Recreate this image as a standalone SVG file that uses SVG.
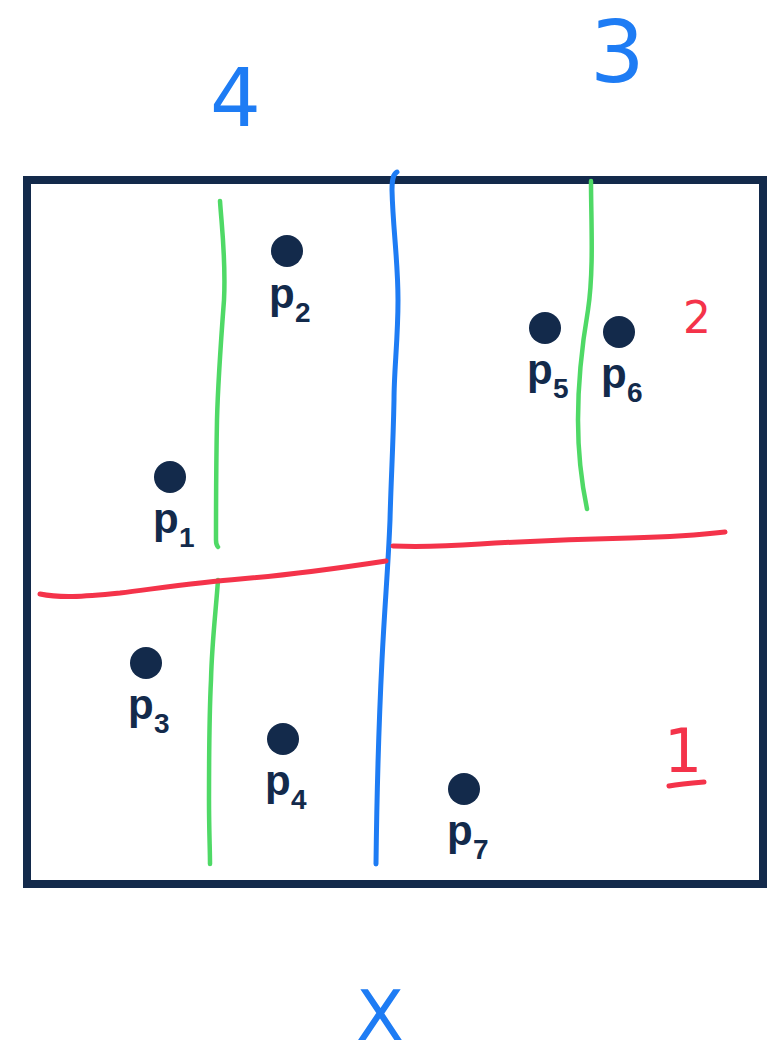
<svg xmlns="http://www.w3.org/2000/svg" width="779" height="1058" viewBox="0 0 779 1058">
<style>
.ink{fill:none;stroke-linecap:round;stroke-linejoin:round}
.blue{stroke:#1e7cf4;stroke-width:5}
.green{stroke:#4fd966;stroke-width:4.5}
.red{stroke:#f4334a;stroke-width:5}
.dot{fill:#132a4b}
.lbl{font-family:"Liberation Sans",Arial,sans-serif;font-weight:bold;font-size:42px;fill:#132a4b}
.sub{font-size:28px}
.hand{font-family:"DejaVu Sans","Liberation Sans",sans-serif}
</style>
<rect id="frame" x="27" y="180" width="736" height="704" fill="#fff" stroke="#132a4b" stroke-width="8"/>
<g id="connectors">
<path class="ink blue" d="M397,172 C393,174 392,180 392,190 C393,230 398,260 398,300 C398,340 394,370 394,400 C393,450 391,480 390,520 C388,570 385,600 382,660 C379,720 377,780 376,864"/>
<path class="ink green" d="M220,201 C222,230 226,260 224,300 C221,340 218,380 217,420 C216,470 216,510 216,540 C216,544 217,546 218,547"/>
<path class="ink green" d="M218,580 C216,610 212,640 211,680 C209,720 209,760 209,800 C209,830 210,850 210,864"/>
<path class="ink green" d="M591,181 C591,220 594,270 588,310 C582,345 578,380 578,420 C578,460 582,485 587,509"/>
<path class="ink red" d="M40,594 C60,598 80,597 120,593 C160,588 200,582 240,579 C290,575 340,568 386,561"/>
<path class="ink red" d="M393,546 C420,547 450,546 480,544 C530,541 580,539 630,538 C670,537 700,535 725,532"/>
<path class="ink red" d="M669,786 C680,784 692,783 704,782"/>
</g>
<g id="p1"><circle class="dot" cx="170" cy="477" r="16"/><text class="lbl" x="153" y="533">p</text><text class="lbl sub" x="179" y="547">1</text></g>
<g id="p2"><circle class="dot" cx="287" cy="251" r="16"/><text class="lbl" x="269" y="308">p</text><text class="lbl sub" x="295" y="322">2</text></g>
<g id="p3"><circle class="dot" cx="146" cy="663" r="16"/><text class="lbl" x="128" y="719">p</text><text class="lbl sub" x="154" y="733">3</text></g>
<g id="p4"><circle class="dot" cx="283" cy="739" r="16"/><text class="lbl" x="265" y="795">p</text><text class="lbl sub" x="291" y="809">4</text></g>
<g id="p5"><circle class="dot" cx="545" cy="328" r="16"/><text class="lbl" x="527" y="384">p</text><text class="lbl sub" x="553" y="398">5</text></g>
<g id="p6"><circle class="dot" cx="619" cy="332" r="16"/><text class="lbl" x="601" y="388">p</text><text class="lbl sub" x="627" y="402">6</text></g>
<g id="p7"><circle class="dot" cx="464" cy="789" r="16"/><text class="lbl" x="447" y="845">p</text><text class="lbl sub" x="473" y="859">7</text></g>
<g id="labels">
<text class="hand" x="210" y="126" font-size="80" fill="#1e7cf4">4</text>
<text class="hand" x="590" y="82" font-size="86" fill="#1e7cf4">3</text>
<text class="hand" x="683" y="333" font-size="44" fill="#f4334a">2</text>
<text class="hand" x="664" y="772" font-size="60" fill="#f4334a">1</text>
<text class="hand" x="356" y="1040" font-size="70" fill="#1e7cf4">X</text>
</g>
</svg>
